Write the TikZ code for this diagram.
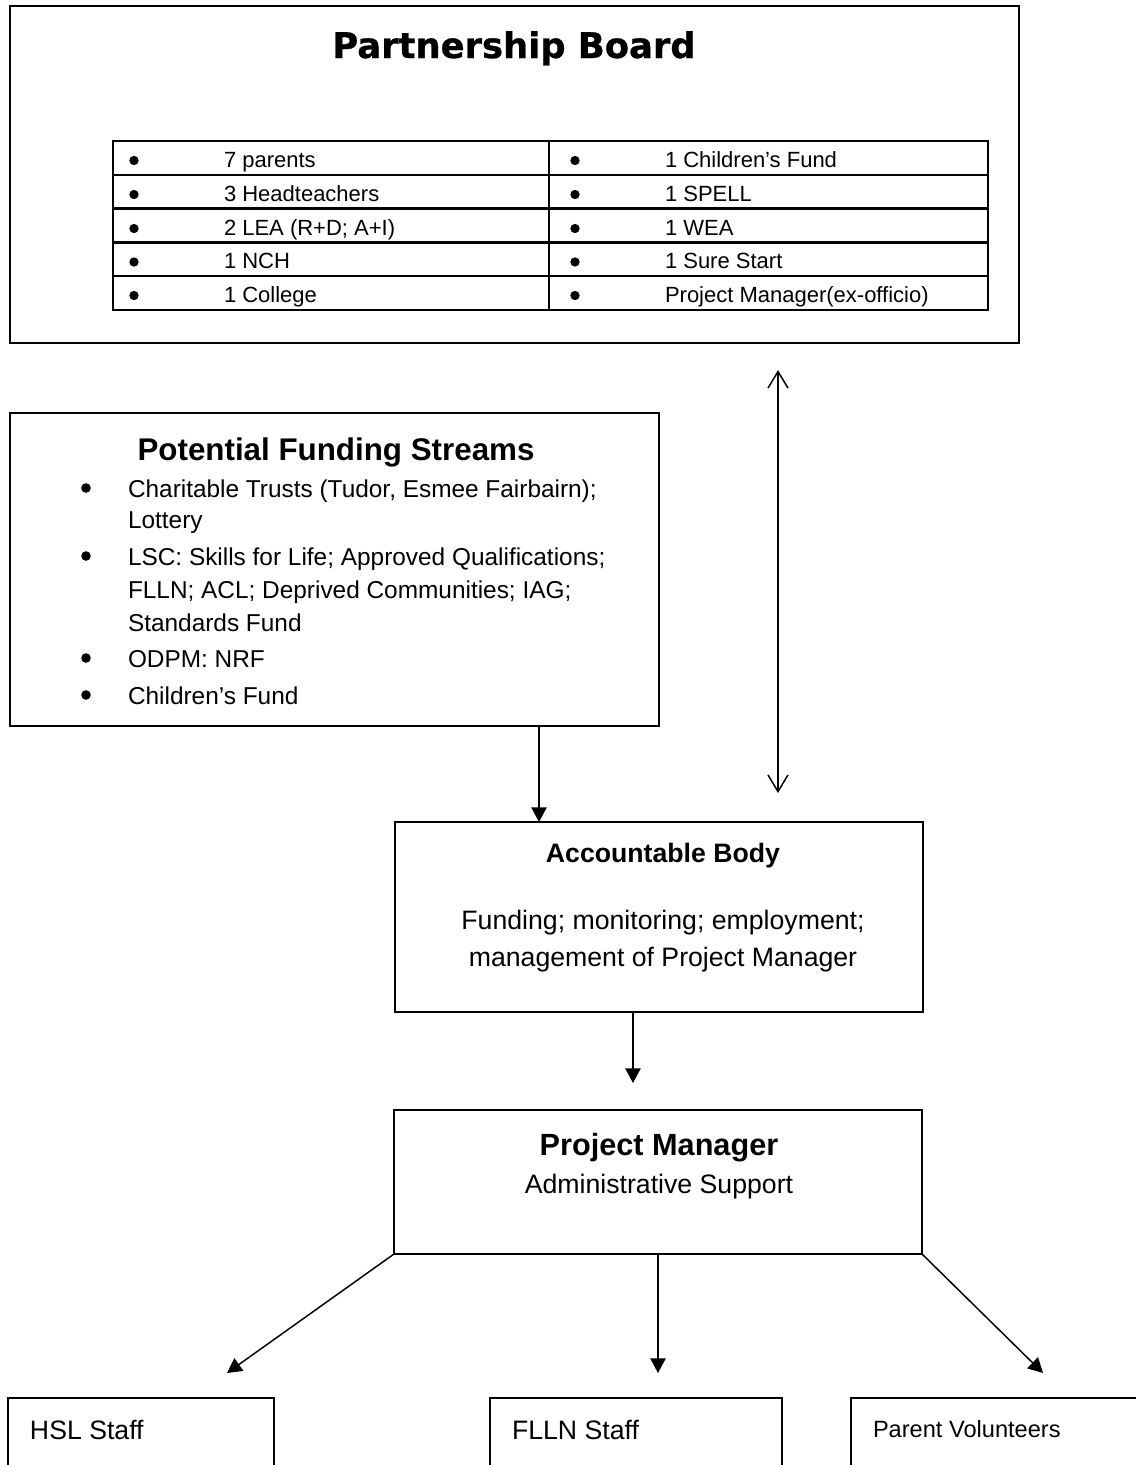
\documentclass[tikz,border=0pt]{standalone}
\usepackage{fontspec}
\setmainfont{Liberation Sans}
\newfontfamily\heavyfont{DejaVu Sans}[BoldFeatures={FakeBold=0.8}]
\usetikzlibrary{arrows.meta}
\begin{document}
\begin{tikzpicture}[x=0.75pt,y=-0.75pt,
  box/.style={draw, line width=1.1pt, inner sep=0pt, outer sep=0pt, anchor=north west},
  txt/.style={inner sep=0pt, outer sep=0pt, anchor=base west},
  ctxt/.style={inner sep=0pt, outer sep=0pt, anchor=base},
  tabtext/.style={txt, font=\fontsize{16.5}{19}\selectfont},
  fundtext/.style={txt, font=\fontsize{18.3}{21}\selectfont},
  arr/.style={line width=1.1pt, -{Triangle[width=11.5pt,length=11pt]}},
  dbl/.style={line width=1.1pt, {Straight Barb[width=15pt,length=12.5pt]}-{Straight Barb[width=15pt,length=12.5pt]}},
  tline/.style={line width=1.9pt},
]
\useasboundingbox (0,0) rectangle (1136,1465);
\clip (0,0) rectangle (1136,1465);
\fill[white] (0,0) rectangle (1136,1465);

% Partnership Board
\node[box, minimum width=756.75pt, minimum height=252.75pt] (pb) at (10,6) {};
\node[ctxt, font=\heavyfont\bfseries\fontsize{26.5}{30}\selectfont] (pbt) at (514,58) {Partnership Board};

% table
\draw[tline] (113,141) rectangle (988,310);
\foreach \yy in {174.8,208.6,242.4,276.2} \draw[tline] (113,\yy) -- (988,\yy);
\draw[tline] (549,141) -- (549,310);
\foreach \yy in {167,201,235,268.5,302} {
  \fill (134,\yy-6.5) circle (3.5pt);
  \fill (575,\yy-6.5) circle (3.5pt);
}
\node[tabtext] (r1a) at (224,167) {7 parents};
\node[tabtext] (r2a) at (224,201) {3 Headteachers};
\node[tabtext] (r3a) at (224,235) {2 LEA (R+D; A+I)};
\node[tabtext] (r4a) at (224,268.5) {1 NCH};
\node[tabtext] (r5a) at (224,302) {1 College};
\node[tabtext] (r1b) at (665,167) {1 Children’s Fund};
\node[tabtext] (r2b) at (665,201) {1 SPELL};
\node[tabtext] (r3b) at (665,235) {1 WEA};
\node[tabtext] (r4b) at (665,268.5) {1 Sure Start};
\node[tabtext] (r5b) at (665,302) {Project Manager(ex-officio)};

% Funding streams
\node[box, minimum width=486.75pt, minimum height=234.75pt] (fund) at (10,413) {};
\node[ctxt, font=\bfseries\fontsize{23.5}{27}\selectfont] (fundt) at (336,460) {Potential Funding Streams};
\foreach \yy in {497,565,667,704} \fill (86,\yy-9) circle (3.6pt);
\node[fundtext] (f1) at (128,497) {Charitable Trusts (Tudor, Esmee Fairbairn);};
\node[fundtext] (f2) at (128,528) {Lottery};
\node[fundtext] (f3) at (128,565) {LSC: Skills for Life; Approved Qualifications;};
\node[fundtext] (f4) at (128,598) {FLLN; ACL; Deprived Communities; IAG;};
\node[fundtext] (f5) at (128,631) {Standards Fund};
\node[fundtext] (f6) at (128,667) {ODPM: NRF};
\node[fundtext] (f7) at (128,704) {Children’s Fund};

% Accountable Body
\node[box, minimum width=396pt, minimum height=142.5pt] (ab) at (395,822) {};
\node[ctxt, font=\bfseries\fontsize{20}{24}\selectfont] (abt) at (663,862) {Accountable Body};
\node[ctxt, font=\fontsize{20}{24}\selectfont] (ab1) at (663,929) {Funding; monitoring; employment;};
\node[ctxt, font=\fontsize{20}{24}\selectfont] (ab2) at (663,966) {management of Project Manager};

% Project Manager
\node[box, minimum width=396pt, minimum height=108pt] (pm) at (394,1110) {};
\node[ctxt, font=\bfseries\fontsize{23}{27}\selectfont] (pmt) at (659,1155) {Project Manager};
\node[ctxt, font=\fontsize{20}{24}\selectfont] (pm1) at (659,1193) {Administrative Support};

% bottom boxes
\node[box, minimum width=199.5pt, minimum height=61.5pt] (hsl) at (8,1398) {};
\node[box, minimum width=219pt, minimum height=61.5pt] (flln) at (490,1398) {};
\node[box, minimum width=224.25pt, minimum height=61.5pt] (pv) at (851,1398) {};
\node[txt, font=\fontsize{20}{24}\selectfont] (hslt) at (30,1439) {HSL Staff};
\node[txt, font=\fontsize{20}{24}\selectfont] (fllnt) at (512,1439) {FLLN Staff};
\node[txt, font=\fontsize{17.7}{21}\selectfont] (pvt) at (873,1437) {Parent Volunteers};

% connectors
\coordinate (xa) at (539,0);
\coordinate (xb) at (778,0);
\coordinate (xc) at (633,0);
\coordinate (tl) at (227,1373);
\coordinate (tm) at (658,1373);
\coordinate (tr) at (1043,1373);
\draw[arr] (fund.south -| xa) -- (ab.north -| xa);
\draw[dbl, shorten <=20.25pt, shorten >=21.75pt] (pb.south -| xb) -- (ab.north -| xb);
\draw[arr, shorten >=20.25pt] (ab.south -| xc) -- (pm.north -| xc);
\draw[arr] (pm.south west) -- (tl);
\draw[arr] (pm.south -| tm) -- (tm);
\draw[arr] (pm.south east) -- (tr);
\end{tikzpicture}
\end{document}
